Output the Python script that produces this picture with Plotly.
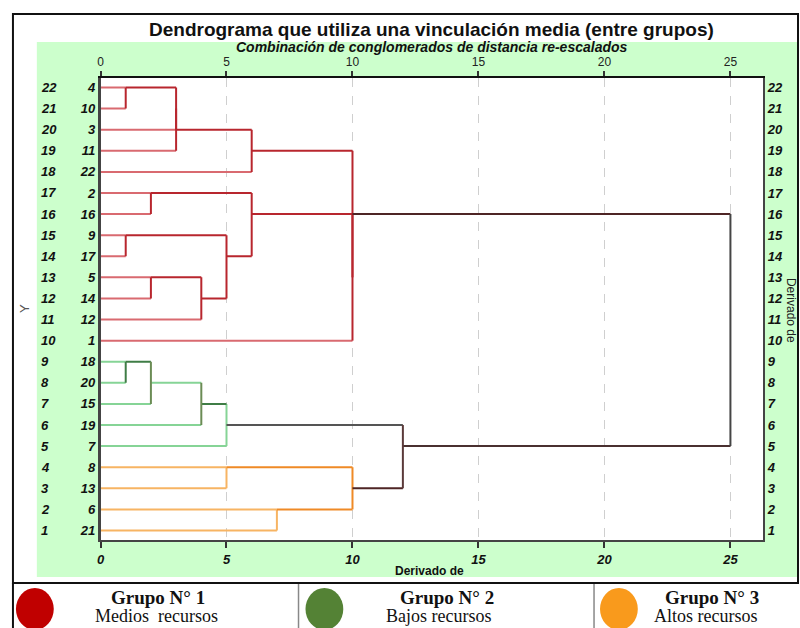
import math
import plotly.graph_objects as go

# ---------------- data ----------------
leaf_labels = [4, 10, 3, 11, 22, 2, 16, 9, 17, 5, 14, 12, 1, 18, 20, 15, 19, 7, 8, 13, 6, 21]  # top -> bottom
row_numbers = list(range(22, 0, -1))
leaf_group = [1] * 13 + [2] * 5 + [3] * 4

merge_left = ['4', 'm0', 'm1', 'm2', '2', '9', '5', 'm6', 'm5', 'm4', 'm9', 'm3',
              '18', 'm12', 'm13', 'm14', '8', '6', 'm16', 'm15', 'm11']
merge_right = ['10', '3', '11', '22', '16', '17', '14', '12', 'm7', 'm8', '1', 'm10',
               '20', '15', '19', '7', '13', '21', 'm17', 'm18', 'm19']
merge_height = [1, 3, 3, 6, 2, 1, 2, 4, 5, 6, 10, 10,
                1, 2, 4, 5, 5, 7, 10, 12, 25]
x_ticks = [0, 5, 10, 15, 20, 25]

title_text = "Dendrograma que utiliza una vinculación media (entre grupos)"
subtitle_text = "Combinación de conglomerados de distancia re-escalados"
group_titles = ["Grupo N° 1", "Grupo N° 2", "Grupo N° 3"]
group_desc = ["Medios  recursos", "Bajos recursos", "Altos recursos"]

# ---------------- styles ----------------
RED_L, RED_D = '#d96a70', '#b8262e'
GRN_L, GRN_D, GRN_O = '#86d496', '#3f7d46', '#6b8c55'
ORG_L, ORG_D = '#f7b463', '#ef8a26'
BRN, GRY = '#4e2525', '#555555'
leaf_color = {1: RED_L, 2: GRN_L, 3: ORG_L}
vert_color = [RED_D] * 12 + [GRN_D, GRN_O, GRN_O, GRN_L, ORG_L, ORG_L, ORG_D, '#5b3a3a', '#454545']
out_color = [RED_D] * 11 + [BRN, GRN_D, GRN_L, GRN_D, GRY, ORG_D, ORG_D, BRN, '#4a3030', BRN]
legend_colors = ['#c00000', '#548235', '#f99a1c']

W, H = 800, 628
def px(x): return x / W
def py(y): return 1 - y / H

# ---------------- compute dendrogram geometry ----------------
ypos, hgt, parent_h, color_of = {}, {}, {}, {}
for lab, r, g in zip(leaf_labels, row_numbers, leaf_group):
    ypos[str(lab)] = r
    hgt[str(lab)] = 0
    color_of[str(lab)] = leaf_color[g]
for i, (a, b, h) in enumerate(zip(merge_left, merge_right, merge_height)):
    nid = 'm%d' % i
    ypos[nid] = math.ceil((ypos[a] + ypos[b]) / 2)
    hgt[nid] = h
    color_of[nid] = out_color[i]
    parent_h[a] = h
    parent_h[b] = h

segs = {}
def add(col, xs, ys):
    s = segs.setdefault(col, ([], []))
    s[0].extend(xs + [None]); s[1].extend(ys + [None])

for node, ph in parent_h.items():
    add(color_of[node], [hgt[node], ph], [ypos[node], ypos[node]])
for i, (a, b, h) in enumerate(zip(merge_left, merge_right, merge_height)):
    add(vert_color[i], [h, h], [ypos[a], ypos[b]])

fig = go.Figure()
order = [RED_L, GRN_L, ORG_L] + [c for c in segs if c not in (RED_L, GRN_L, ORG_L)]
for col in order:
    if col in segs:
        xs, ys = segs[col]
        fig.add_trace(go.Scatter(x=xs, y=ys, mode='lines', line=dict(color=col, width=2),
                                 hoverinfo='skip', showlegend=False))
fig.add_trace(go.Scatter(x=[0], y=[1], xaxis='x2', yaxis='y2', mode='markers',
                         marker=dict(opacity=0), hoverinfo='skip', showlegend=False))

SANS = "Liberation Sans"
SERIF = "Liberation Serif"
bi = dict(family=SANS, size=13, color='#111', weight='bold', style='italic')
xr = [0, 26.3]
yr = [0.55, 22.45]
dom_x = [px(97), px(763)]
dom_y = [py(540), py(78)]

fig.update_layout(
    width=W, height=H, margin=dict(l=0, r=0, t=0, b=0),
    paper_bgcolor='white', plot_bgcolor='rgba(0,0,0,0)', showlegend=False,
    xaxis=dict(domain=dom_x, range=xr, tickvals=x_ticks, ticks='outside', ticklen=6,
               tickwidth=1.5, tickcolor='#333', showgrid=True, gridcolor='#cfcfcf',
               griddash='dash', gridwidth=1, showline=True, linecolor='#444', linewidth=2,
               zeroline=False, tickfont=bi, anchor='y', fixedrange=True),
    xaxis2=dict(overlaying='x', side='top', range=xr, tickvals=x_ticks, ticks='outside',
                ticklen=5, tickwidth=1.5, tickcolor='#333', showgrid=False, showline=True,
                linecolor='#111', linewidth=2, zeroline=False, anchor='y',
                tickfont=dict(family=SANS, size=12, color='#222')),
    yaxis=dict(domain=dom_y, range=yr, tickvals=row_numbers, ticktext=[str(v) for v in leaf_labels],
               ticks='', showline=True, linecolor='#444', linewidth=2.5, showgrid=False,
               zeroline=False, tickfont=bi, anchor='x'),
    yaxis2=dict(overlaying='y', side='right', anchor='x', range=yr, tickvals=row_numbers,
                ticktext=[str(v) for v in row_numbers], ticks='', showline=True,
                linecolor='#444', linewidth=2, showgrid=False, zeroline=False, tickfont=bi),
)

shapes = [
    dict(type='rect', xref='paper', yref='paper', x0=px(33), x1=px(797), y0=py(577), y1=py(42),
         fillcolor='#ccffcc', line=dict(width=0), layer='below'),
    dict(type='rect', xref='paper', yref='paper', x0=dom_x[0], x1=dom_x[1], y0=dom_y[0], y1=dom_y[1],
         fillcolor='white', line=dict(width=0), layer='below'),
    dict(type='rect', xref='paper', yref='paper', x0=px(9), x1=px(798), y0=py(583), y1=py(14),
         fillcolor='rgba(0,0,0,0)', line=dict(color='#111', width=2), layer='above'),
    dict(type='line', xref='paper', yref='paper', x0=px(9), x1=px(9), y0=py(583), y1=py(640),
         line=dict(color='#111', width=2)),
]
for xs in (296, 593):
    shapes.append(dict(type='line', xref='paper', yref='paper', x0=px(xs), x1=px(xs),
                       y0=py(584), y1=py(640), line=dict(color='#888', width=1.5)))
circle_x = [31, 322, 618]
for cx, col in zip(circle_x, legend_colors):
    shapes.append(dict(type='circle', xref='paper', yref='paper', x0=px(cx - 19), x1=px(cx + 19),
                       y0=py(630), y1=py(588), fillcolor=col, line=dict(width=0)))
fig.update_layout(shapes=shapes)

ann = [
    dict(x=px(430), y=py(30), text='<b>' + title_text + '</b>', font=dict(family=SANS, size=19, color='#111')),
    dict(x=px(430), y=py(47), text='<b><i>' + subtitle_text + '</i></b>', font=dict(family=SANS, size=14, color='#111')),
    dict(x=px(428), y=py(571), text='<b>Derivado de</b>', font=dict(family=SANS, size=12, color='#111')),
    dict(x=px(791), y=py(310), text='Derivado de', textangle=90, font=dict(family=SANS, size=12, color='#222')),
    dict(x=px(20), y=py(308), text='Y', textangle=-90, font=dict(family=SANS, size=13, color='#555')),
]
for a in ann:
    a.update(xref='paper', yref='paper', showarrow=False, xanchor='center', yanchor='middle')
for r in row_numbers:
    ann.append(dict(x=px(35), y=r, xref='paper', yref='y', text='<b><i>%d</i></b>' % r,
                    showarrow=False, xanchor='left', yanchor='middle',
                    font=dict(family=SANS, size=13, color='#111')))
title_cx = [155, 445, 712]
desc_cx = [153, 437, 705]
for i in range(3):
    ann.append(dict(x=px(title_cx[i]), y=py(597), xref='paper', yref='paper',
                    text='<b>' + group_titles[i] + '</b>', showarrow=False,
                    xanchor='center', yanchor='middle', font=dict(family=SERIF, size=19, color='#111')))
    ann.append(dict(x=px(desc_cx[i]), y=py(616), xref='paper', yref='paper',
                    text=group_desc[i], showarrow=False,
                    xanchor='center', yanchor='middle', font=dict(family=SERIF, size=18, color='#111')))
fig.update_layout(annotations=ann)

fig.write_html("out.html", config={'displayModeBar': False},
               post_script="document.body.style.margin='0';document.body.style.overflow='hidden';")
